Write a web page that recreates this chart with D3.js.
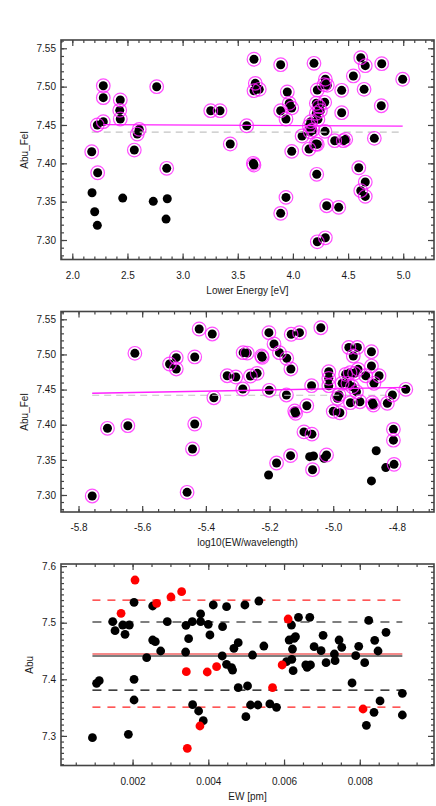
<!DOCTYPE html>
<html><head><meta charset="utf-8">
<script src="https://cdn.jsdelivr.net/npm/d3@7"></script>
<style>
body{margin:0;background:#fff}
svg{display:block}
text{font-family:"Liberation Sans",Arial,Helvetica,sans-serif}
</style>
</head><body>
<svg id="c" width="436" height="806"></svg>
<script>
// ---------- Panel 1: Abu_FeI vs Lower Energy ----------
const p1RingEnergy = [2.176,2.230,2.227,2.281,2.281,2.281,2.435,2.430,2.435,2.562,2.589,2.607,2.765,2.856,3.255,3.339,3.432,3.581,3.647,3.641,3.647,3.659,3.647,3.695,3.889,3.889,3.889,3.937,3.937,3.949,3.967,3.989,3.989,4.083,4.146,4.162,4.149,4.180,4.156,4.191,4.212,4.236,4.249,4.212,4.227,4.221,4.209,4.221,4.216,4.221,4.294,4.282,4.294,4.312,4.288,4.291,4.306,4.379,4.415,4.442,4.442,4.457,4.479,4.548,4.597,4.615,4.615,4.645,4.656,4.656,4.656,4.738,4.805,4.801,4.995];
const p1RingAbu = [7.4151,7.3877,7.4500,7.5012,7.4856,7.4543,7.4826,7.4691,7.4578,7.4173,7.4382,7.4443,7.4999,7.3935,7.4686,7.4686,7.4252,7.4490,7.5357,7.4000,7.3978,7.5043,7.4947,7.4965,7.5286,7.4686,7.3348,7.4578,7.3556,7.4930,7.4783,7.4722,7.4156,7.4356,7.4186,7.4543,7.4487,7.4435,7.4412,7.5304,7.4783,7.4739,7.4687,7.4652,7.4574,7.4956,7.4252,7.4248,7.3857,7.2977,7.3029,7.5025,7.5096,7.5017,7.4796,7.4417,7.3447,7.4295,7.3426,7.4952,7.4660,7.4295,7.4313,7.5139,7.3942,7.5377,7.3643,7.4965,7.5273,7.3756,7.3569,7.4326,7.5299,7.4751,7.5096];
const p1PlainEnergy = [2.179,2.203,2.227,2.457,2.734,2.850,2.861];
const p1PlainAbu = [7.3616,7.3369,7.3191,7.3547,7.3504,7.3273,7.3538];
const p1FitX = [2.281,4.995], p1FitY = [7.4505,7.4485];
const p1MeanX = [2.176,4.995], p1MeanY = [7.4408,7.4408];
const p1XTicks = [2.0,2.5,3.0,3.5,4.0,4.5,5.0];
const p1XLabels = ["2.0","2.5","3.0","3.5","4.0","4.5","5.0"];
const p1YTicks = [7.30,7.35,7.40,7.45,7.50,7.55];
const p1YLabels = ["7.30","7.35","7.40","7.45","7.50","7.55"];

// ---------- Panel 2: Abu_FeI vs log10(EW/wavelength) ----------
const p2RingLogEW = [-5.757,-5.709,-5.645,-5.623,-5.514,-5.493,-5.493,-5.459,-5.442,-5.435,-5.435,-5.421,-5.380,-5.375,-5.333,
 -5.306,-5.283,-5.270,-5.260,-5.239,-5.284,-5.225,-5.223,-5.202,-5.201,-5.186,-5.169,-5.178,-5.146,-5.147,-5.133,-5.132,-5.106,-5.134,-5.121,-5.118,-5.083,-5.092,-5.067,-5.065,-5.068,-5.039,-5.021,
 -5.014,-5.014,-5.014,-4.982,-4.987,-5.000,-4.979,-4.972,-4.951,-4.924,-4.937,-4.880,-4.880,-4.961,-4.947,-4.933,-4.922,-4.898,-4.954,-4.940,-4.927,-4.946,-4.916,-4.856,-4.872,-4.877,-4.874,-4.830,-4.814,-4.772,-4.811,-4.811,-4.809];
const p2RingAbu = [7.2986,7.3949,7.3986,7.5016,7.4864,7.4954,7.4793,7.3038,7.3655,7.4010,7.4964,7.5362,7.5291,7.4384,7.4697,
 7.4679,7.5025,7.5020,7.4693,7.4731,7.4508,7.4978,7.4959,7.5310,7.4490,7.5149,7.5025,7.3455,7.4945,7.4423,7.4793,7.5287,7.5310,7.3560,7.4195,7.4162,7.4270,7.3898,7.3866,7.3360,7.4555,7.5380,7.3569,
 7.4755,7.4660,7.4555,7.4423,7.4376,7.4190,7.4170,7.4589,7.5100,7.5100,7.4978,7.5039,7.4835,7.4717,7.4740,7.4731,7.4788,7.4697,7.4589,7.4540,7.4470,7.4313,7.4327,7.4697,7.4589,7.4313,7.4280,7.4305,7.4423,7.4504,7.3934,7.3780,7.3436];
const p2PlainLogEW = [-5.203,-5.074,-5.062,-5.029,-4.865,-4.835,-4.880];
const p2PlainAbu = [7.3284,7.3545,7.3555,7.3522,7.3630,7.3390,7.3200];
const p2FitX = [-5.757,-4.772], p2FitY = [7.4447,7.4532];
const p2MeanX = [-5.757,-4.832], p2MeanY = [7.4419,7.4419];
const p2XTicks = [-5.8,-5.6,-5.4,-5.2,-5.0,-4.8];
const p2XLabels = ["-5.8","-5.6","-5.4","-5.2","-5.0","-4.8"];
const p2YTicks = [7.30,7.35,7.40,7.45,7.50,7.55];
const p2YLabels = ["7.30","7.35","7.40","7.45","7.50","7.55"];

// ---------- Panel 3: Abu vs EW ----------
const p3BlackEW = [0.00094,0.00105,0.00112,0.001476,0.001537,0.00174,0.001801,0.001915,0.001889,0.002039,0.002039,0.002039,0.002373,0.002531,0.002531,0.002601,0.002742,0.002917,0.00341,0.003401,0.00348,0.003577,0.003586,0.003744,0.003797,0.003797,0.003867,0.003999,0.004043,0.004131,0.004368,0.004377,0.004482,0.004482,0.004614,0.004641,0.004676,0.00479,0.00479,
 0.004966,0.004992,0.005036,0.005115,0.005168,0.005309,0.005335,0.005467,0.005625,0.005801,0.006065,0.006135,0.006196,0.006205,0.006223,0.00624,0.006267,0.006302,0.006381,0.006574,0.006609,0.006698,0.00668,0.006794,0.006979,0.007031,0.00711,0.00733,0.007348,0.007453,0.007524,0.007796,0.007893,0.007972,0.00813,0.008174,0.008236,0.008376,0.008394,0.008482,0.008535,0.008693,0.009124,0.009124];
const p3BlackAbu = [7.2969,7.3929,7.3976,7.5018,7.4859,7.4959,7.4795,7.4959,7.3028,7.3999,7.3634,7.5360,7.4382,7.5295,7.4694,7.4665,7.4500,7.5018,7.4954,7.4482,7.4718,7.5018,7.3552,7.3440,7.5154,7.5018,7.3269,7.4971,7.4783,7.5313,7.4412,7.4930,7.5283,7.4264,7.4205,7.4164,7.4547,7.4647,7.3852,
 7.5313,7.3340,7.3882,7.3546,7.4429,7.3546,7.5383,7.4588,7.3564,7.3505,7.4311,7.4694,7.4959,7.4353,7.4535,7.4152,7.4724,7.4753,7.5095,7.4253,7.4211,7.4253,7.5095,7.4577,7.4506,7.4777,7.4294,7.4447,7.4329,7.4694,7.4565,7.3935,7.4417,7.4582,7.4294,7.3187,7.5042,7.3416,7.4688,7.4500,7.3617,7.4830,7.3752,7.3369];
const p3RedEW = [0.001696,0.002065,0.002636,0.003014,0.003296,0.003419,0.003445,0.003779,0.003972,0.004219,0.005696,0.00595,0.006108,0.008086];
const p3RedAbu = [7.5166,7.5754,7.5342,7.5454,7.5548,7.4135,7.2780,7.3175,7.4129,7.4223,7.3852,7.4253,7.5065,7.3475];
const p3LineX = [0.00094,0.009124];
const p3BlackMean = 7.4412, p3BlackBand = [7.5012,7.3810];
const p3RedMean = 7.4447, p3RedBand = [7.5400,7.3510];
const p3XTicks = [0.002,0.004,0.006,0.008];
const p3XLabels = ["0.002","0.004","0.006","0.008"];
const p3YTicks = [7.3,7.4,7.5,7.6];
const p3YLabels = ["7.3","7.4","7.5","7.6"];

// ---------- drawing ----------
const svg = d3.select("#c");
const L = 61, R = 434;
const FRAME = "#444", TXT = "#1a1a1a", MAG = "#ff22ff";

function panel(o) {
  const g = svg.append("g");
  const x = d3.scaleLinear().domain(o.xDom).range([L, R]);
  const y = d3.scaleLinear().domain(o.yDom).range([o.bottom, o.top]);
  const inDom = (d, dom) => d >= Math.min(...dom) - 1e-12 && d <= Math.max(...dom) + 1e-12;
  const xMinor = d3.range(o.xMinorStart, o.xDom[1], o.xMinorStep).filter(d => inDom(d, o.xDom));
  const yMinor = d3.range(o.yMinorStart, o.yDom[1], o.yMinorStep).filter(d => inDom(d, o.yDom));

  function ax(gen, scale, pos, vals, size, labels, pad) {
    const a = gen(scale).tickValues(vals).tickSize(size).tickSizeOuter(0)
      .tickFormat(labels ? (d, i) => labels[i] : "");
    if (pad !== undefined) a.tickPadding(pad);
    const ag = g.append("g").attr("transform", pos).call(a);
    ag.select(".domain").remove();
    ag.selectAll("line").attr("stroke", FRAME).attr("stroke-width", 1.2);
    ag.selectAll("text").attr("font-size", 10).attr("fill", TXT)
      .attr("font-family", '"Liberation Sans",Arial,sans-serif');
  }
  // bottom
  ax(d3.axisBottom, x, `translate(0,${o.bottom})`, o.xTicks, -6, o.xLabels, 12);
  ax(d3.axisBottom, x, `translate(0,${o.bottom})`, xMinor, -3, null);
  // top
  ax(d3.axisTop, x, `translate(0,${o.top})`, o.xTicks, -6, null);
  ax(d3.axisTop, x, `translate(0,${o.top})`, xMinor, -3, null);
  // left
  ax(d3.axisLeft, y, `translate(${L},0)`, o.yTicks, -6, o.yLabels, 5);
  ax(d3.axisLeft, y, `translate(${L},0)`, yMinor, -3, null);
  // right
  ax(d3.axisRight, y, `translate(${R},0)`, o.yTicks, -6, null);
  ax(d3.axisRight, y, `translate(${R},0)`, yMinor, -3, null);

  g.append("rect").attr("x", L).attr("y", o.top).attr("width", R - L).attr("height", o.bottom - o.top)
    .attr("fill", "none").attr("stroke", FRAME).attr("stroke-width", 1.6);

  g.append("text").attr("x", (L + R) / 2 + (o.xTitleDx || 0)).attr("y", o.bottom + 34)
    .attr("text-anchor", "middle").attr("font-size", 10).attr("fill", TXT).text(o.xTitle);
  g.append("text").attr("transform", `translate(${o.yTitleX},${(o.top + o.bottom) / 2}) rotate(-90)`)
    .attr("text-anchor", "middle").attr("font-size", 10).attr("fill", TXT).text(o.yTitle);

  o.draw(g, x, y);
}

function hline(g, x, y, xs, v, stroke, w, dash) {
  g.append("line").attr("x1", x(xs[0])).attr("x2", x(xs[1])).attr("y1", y(v)).attr("y2", y(v))
    .attr("stroke", stroke).attr("stroke-width", w).attr("stroke-dasharray", dash || null);
}

function ringedPanel(ringX, ringY, plainX, plainY, fitX, fitY, meanX, meanY) {
  return (g, x, y) => {
    const dots = g.append("g");
    dots.selectAll("circle.p").data(plainX).join("circle")
      .attr("cx", d => x(d)).attr("cy", (d, i) => y(plainY[i])).attr("r", 4.5).attr("fill", "#000");
    dots.selectAll("circle.r").data(ringX).join("circle").attr("class", "r")
      .attr("cx", d => x(d)).attr("cy", (d, i) => y(ringY[i])).attr("r", 4.5).attr("fill", "#000");
    g.append("line").attr("x1", x(meanX[0])).attr("x2", x(meanX[1])).attr("y1", y(meanY[0])).attr("y2", y(meanY[1]))
      .attr("stroke", "#c4c4c4").attr("stroke-width", 1.2).attr("stroke-dasharray", "7,5");
    g.append("line").attr("x1", x(fitX[0])).attr("x2", x(fitX[1])).attr("y1", y(fitY[0])).attr("y2", y(fitY[1]))
      .attr("stroke", MAG).attr("stroke-width", 1.4);
    g.append("g").selectAll("circle").data(ringX).join("circle")
      .attr("cx", d => x(d)).attr("cy", (d, i) => y(ringY[i])).attr("r", 6.8)
      .attr("fill", "none").attr("stroke", MAG).attr("stroke-opacity", 0.8).attr("stroke-width", 1.2);
  };
}

panel({
  top: 40, bottom: 259.5, xDom: [1.8976, 5.279], yDom: [7.2746, 7.5608],
  xTicks: p1XTicks, xLabels: p1XLabels, yTicks: p1YTicks, yLabels: p1YLabels,
  xMinorStart: 1.9, xMinorStep: 0.1, yMinorStart: 7.28, yMinorStep: 0.01,
  xTitle: "Lower Energy [eV]", yTitle: "Abu_FeI", yTitleX: 28,
  draw: ringedPanel(p1RingEnergy, p1RingAbu, p1PlainEnergy, p1PlainAbu, p1FitX, p1FitY, p1MeanX, p1MeanY)
});

panel({
  top: 311.5, bottom: 512, xDom: [-5.855, -4.6835], yDom: [7.2758, 7.5611],
  xTicks: p2XTicks, xLabels: p2XLabels, yTicks: p2YTicks, yLabels: p2YLabels,
  xMinorStart: -5.85, xMinorStep: 0.05, yMinorStart: 7.28, yMinorStep: 0.01,
  xTitle: "log10(EW/wavelength)", yTitle: "Abu_FeI", yTitleX: 28,
  draw: ringedPanel(p2RingLogEW, p2RingAbu, p2PlainLogEW, p2PlainAbu, p2FitX, p2FitY, p2MeanX, p2MeanY)
});

panel({
  top: 564, bottom: 765.5, xDom: [0.00011, 0.00996], yDom: [7.2477, 7.6037],
  xTicks: p3XTicks, xLabels: p3XLabels, yTicks: p3YTicks, yLabels: p3YLabels,
  xMinorStart: 0.0005, xMinorStep: 0.0005, yMinorStart: 7.25, yMinorStep: 0.01,
  xTitle: "EW [pm]", yTitle: "Abu", yTitleX: 33,
  draw: (g, x, y) => {
    hline(g, x, y, p3LineX, p3RedBand[0], "#ff2020", 1.2, "8,7");
    hline(g, x, y, p3LineX, p3RedBand[1], "#ff2020", 1.2, "8,7");
    hline(g, x, y, p3LineX, p3BlackBand[0], "#000", 1.2, "9,7");
    hline(g, x, y, p3LineX, p3BlackBand[1], "#000", 1.2, "9,7");
    hline(g, x, y, p3LineX, p3RedMean, "#f58a8a", 2.2);
    hline(g, x, y, p3LineX, p3BlackMean, "#000", 1.2);
    g.append("g").selectAll("circle").data(p3BlackEW).join("circle")
      .attr("cx", d => x(d)).attr("cy", (d, i) => y(p3BlackAbu[i])).attr("r", 4.4).attr("fill", "#000");
    g.append("g").selectAll("circle").data(p3RedEW).join("circle")
      .attr("cx", d => x(d)).attr("cy", (d, i) => y(p3RedAbu[i])).attr("r", 4.4).attr("fill", "#ff0000");
  }
});
</script>
</body></html>
